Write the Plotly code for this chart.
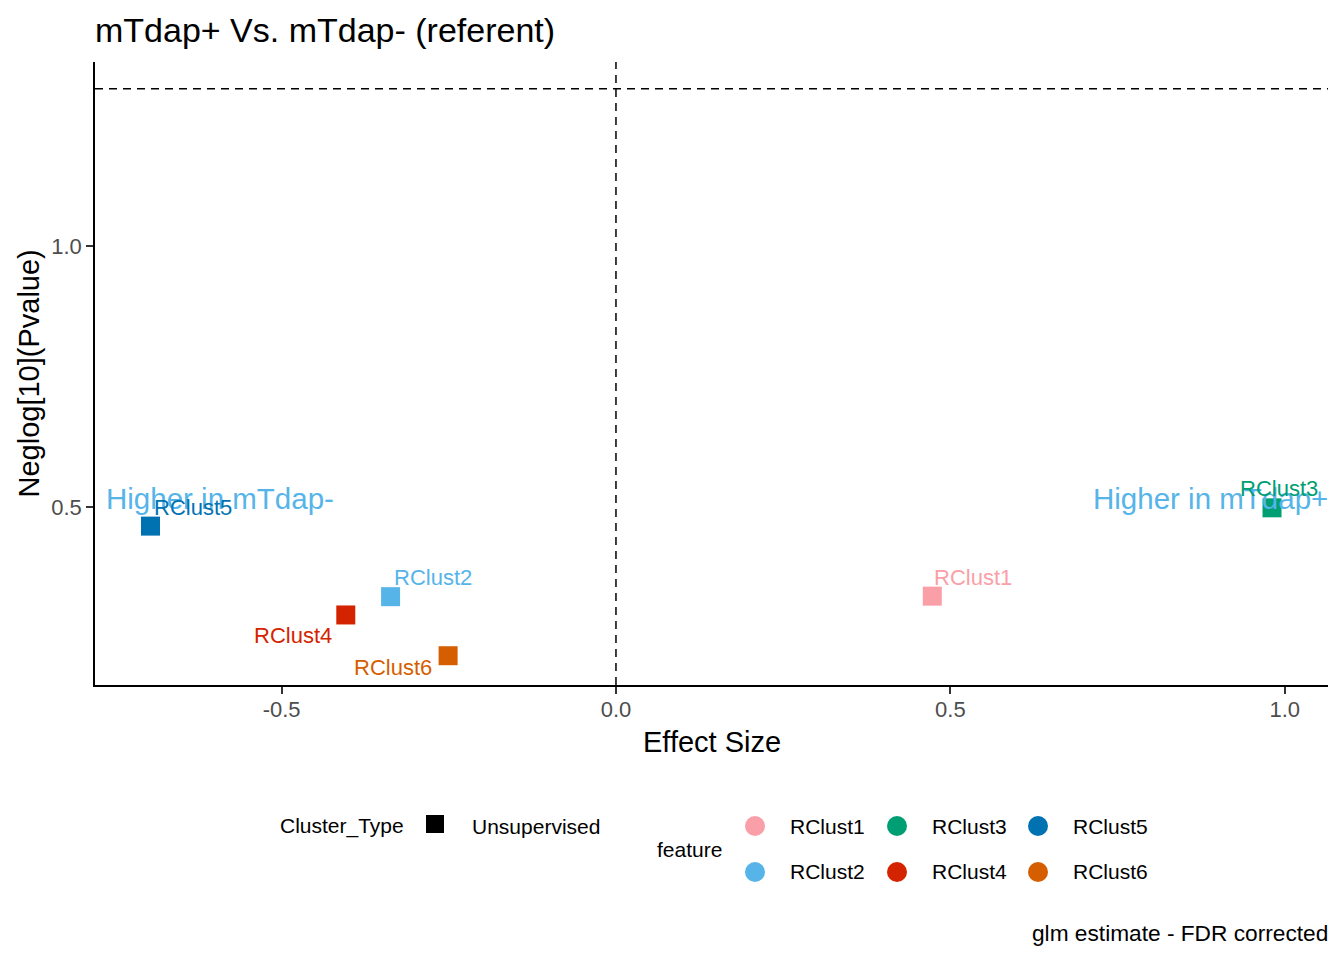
"""Volcano-style effect size plot: mTdap+ vs mTdap- (referent)."""

import plotly.graph_objects as go

# Data
FEATURES = ["RClust1", "RClust2", "RClust3", "RClust4", "RClust5", "RClust6"]
EFFECT_SIZE = [0.473, -0.337, 0.981, -0.404, -0.696, -0.251]
NEGLOG_P = [0.330, 0.329, 0.499, 0.294, 0.464, 0.216]
CLUSTER_TYPE = ["Unsupervised"] * 6
FDR_THRESHOLD = 1.30103  # -log10(0.05)

COLORS = {
    "RClust1": "#FA9FA7",
    "RClust2": "#56B4E9",
    "RClust3": "#009E73",
    "RClust4": "#D42300",
    "RClust5": "#0072B2",
    "RClust6": "#D55E00",
}

# label placement (pixel offsets from each point, like ggrepel)
LABEL_POS = {
    "RClust1": dict(xanchor="left", xshift=0, yshift=19),
    "RClust2": dict(xanchor="left", xshift=1, yshift=19),
    "RClust3": dict(xanchor="center", xshift=7, yshift=19),
    "RClust4": dict(xanchor="right", xshift=-12, yshift=-21),
    "RClust5": dict(xanchor="left", xshift=1, yshift=19),
    "RClust6": dict(xanchor="right", xshift=-14, yshift=-12),
}

FONT = "Liberation Sans, Arial, sans-serif"
# the page adds an 8px body margin, so the figure is drawn 8px in from the corner
OFF = 8
W, H = 1344 - OFF, 960 - OFF
L, R, T, B = 95 - OFF, 16, 62 - OFF, 275
PW, PH = W - L - R, H - T - B


def px(x):
    # page pixel -> paper x
    return (x - OFF - L) / PW


def py(y):
    # page pixel -> paper y
    return (H - B - (y - OFF)) / PH


fig = go.Figure()
fig.add_trace(
    go.Scatter(
        x=EFFECT_SIZE,
        y=NEGLOG_P,
        mode="markers",
        marker=dict(symbol="square", size=19, color=[COLORS[f] for f in FEATURES]),
        text=FEATURES,
        showlegend=False,
    )
)

annotations = []
# direction labels
annotations.append(dict(
    text="Higher in mTdap-", xref="paper", yref="y", x=0, y=0.516,
    xanchor="left", yanchor="middle", xshift=9, showarrow=False,
    font=dict(family=FONT, size=29.5, color="#56B4E9"),
))
annotations.append(dict(
    text="Higher in mTdap+", xref="paper", yref="y", x=1, y=0.516,
    xanchor="right", yanchor="middle", xshift=2, showarrow=False,
    font=dict(family=FONT, size=29.5, color="#56B4E9"),
))

for f, xv, yv in zip(FEATURES, EFFECT_SIZE, NEGLOG_P):
    pos = LABEL_POS[f]
    annotations.append(dict(
        text=f, x=xv, y=yv, xref="x", yref="y", showarrow=False,
        yanchor="middle", font=dict(family=FONT, size=22, color=COLORS[f]), **pos,
    ))

# axis titles
annotations.append(dict(
    text="Effect Size", xref="paper", yref="paper", x=0.5, y=0, yshift=-57,
    xanchor="center", yanchor="middle", showarrow=False,
    font=dict(family=FONT, size=29, color="black"),
))
annotations.append(dict(
    text="Neglog[10](Pvalue)", xref="paper", yref="paper", x=0, y=0.5, xshift=-67,
    textangle=-90, xanchor="center", yanchor="middle", showarrow=False,
    font=dict(family=FONT, size=29, color="black"),
))

# caption
annotations.append(dict(
    text="glm estimate - FDR corrected", xref="paper", yref="paper", x=1, y=py(933),
    xanchor="right", yanchor="middle", xshift=2, showarrow=False,
    font=dict(family=FONT, size=22.7, color="black"),
))

# legend (ggplot-style, bottom)
leg_font = dict(family=FONT, size=21, color="black")
annotations.append(dict(text="Cluster_Type", xref="paper", yref="paper", x=px(278), y=py(826),
                        xanchor="left", yanchor="middle", showarrow=False, font=leg_font))
annotations.append(dict(text=CLUSTER_TYPE[0], xref="paper", yref="paper", x=px(470), y=py(826),
                        xanchor="left", yanchor="middle", showarrow=False, font=leg_font))
annotations.append(dict(text="feature", xref="paper", yref="paper", x=px(655), y=py(849),
                        xanchor="left", yanchor="middle", showarrow=False, font=leg_font))

shapes = [
    dict(type="line", xref="x", yref="paper", x0=0, x1=0, y0=0, y1=1,
         line=dict(color="black", width=1.5, dash="8px,6px")),
    dict(type="line", xref="paper", yref="y", x0=0, x1=1, y0=FDR_THRESHOLD, y1=FDR_THRESHOLD,
         line=dict(color="black", width=1.5, dash="8px,6px")),
    dict(type="rect", xref="paper", yref="paper", xsizemode="pixel", ysizemode="pixel",
         xanchor=px(435), yanchor=py(824), x0=-9, x1=9, y0=-9, y1=9,
         fillcolor="black", line=dict(width=0)),
]

leg_cols = [755, 897, 1038]
leg_rows = [826, 872]
for i, f in enumerate(FEATURES):
    cx = leg_cols[i // 2]
    cy = leg_rows[i % 2]
    shapes.append(dict(
        type="circle", xref="paper", yref="paper", xsizemode="pixel", ysizemode="pixel",
        xanchor=px(cx), yanchor=py(cy), x0=-10, x1=10, y0=-10, y1=10,
        fillcolor=COLORS[f], line=dict(width=0),
    ))
    annotations.append(dict(text=f, xref="paper", yref="paper", x=px(cx + 33), y=py(cy),
                            xanchor="left", yanchor="middle", showarrow=False, font=leg_font))

fig.update_layout(
    width=W,
    height=H,
    margin=dict(l=L, r=R, t=T, b=B, pad=0),
    paper_bgcolor="white",
    plot_bgcolor="white",
    title=dict(
        text="mTdap+ Vs. mTdap- (referent)",
        x=L / W, xanchor="left",
        y=1 - (30 - OFF) / H, yanchor="middle",
        font=dict(family=FONT, size=34, color="black"),
    ),
    annotations=annotations,
    shapes=shapes,
    showlegend=False,
)
fig.update_xaxes(
    range=[-0.779, 1.0647],
    tickvals=[-0.5, 0.0, 0.5, 1.0],
    ticktext=["-0.5", "0.0", "0.5", "1.0"],
    showgrid=False, zeroline=False,
    showline=True, linecolor="black", linewidth=1.6,
    ticks="outside", ticklen=7, tickwidth=1.6, tickcolor="#333333",
    ticklabelstandoff=-3,
    tickfont=dict(family=FONT, size=22, color="#4D4D4D"),
)
fig.update_yaxes(
    range=[0.160, 1.352],
    tickvals=[0.5, 1.0],
    ticktext=["0.5", "1.0"],
    showgrid=False, zeroline=False,
    showline=True, linecolor="black", linewidth=1.6,
    ticks="outside", ticklen=7, tickwidth=1.6, tickcolor="#333333",
    tickfont=dict(family=FONT, size=22, color="#4D4D4D"),
)

fig.write_html("out.html")
